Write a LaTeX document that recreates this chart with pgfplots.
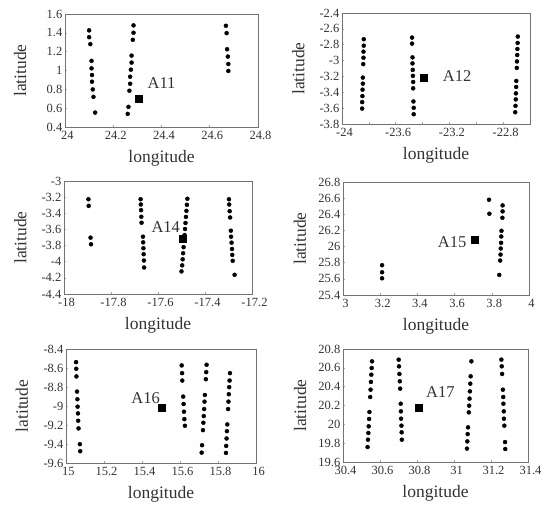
\documentclass[border=0pt]{standalone}
\usepackage{fontspec}
\setmainfont{Liberation Serif}
\usepackage{pgfplots}
\pgfplotsset{compat=1.18}

\pgfplotsset{
  panel/.style={
    scale only axis, anchor=south west, height=113pt,
    axis line style={draw=black!55, line width=0.8pt},
    tick style={draw=black!35, line width=0.5pt},
    tick align=inside, major tick length=2pt, minor tick length=2pt,
    xtick pos=left, ytick pos=left,
    /pgf/number format/assume math mode=true,
    tick label style={font=\fontsize{12.5}{13}\selectfont, text=black!80},
    label style={font=\fontsize{17.5}{18}\selectfont, text=black!80},
    xlabel={longitude}, ylabel={latitude},
    xlabel style={at={(axis description cs:0.5,0)}, anchor=center, yshift=-31pt},
    ylabel style={at={(axis description cs:-0.232,0.5)}, anchor=center},
    xticklabel style={xshift=2.5pt, yshift=-0.5pt},
    yticklabel style={inner sep=1.5pt, xshift=-1pt},
  },
  pts/.style={only marks, mark=*, mark size=2pt, black},
  site/.style={only marks, mark=square*, mark size=3.5pt, black},
}
\tikzset{tag/.style={font=\fontsize{16.5}{17}\selectfont, text=black!80}}

\begin{document}
\begin{tikzpicture}
\path[use as bounding box] (0,0) rectangle (544pt,-505pt);

% A11
\begin{axis}[panel, at={(65pt,-127pt)}, width=193pt,
  xmin=24, xmax=24.8, ymin=0.4, ymax=1.6,
  xtick={24,24.2,24.4,24.6,24.8}, ytick={0.4,0.6,0.8,1,1.2,1.4,1.6}]
\addplot[pts] coordinates {
 (24.10,1.426)(24.10,1.354)(24.105,1.280)(24.11,1.102)(24.11,1.023)(24.112,0.952)
 (24.112,0.881)(24.115,0.799)(24.118,0.720)(24.125,0.553)
 (24.284,1.479)(24.284,1.401)(24.281,1.326)(24.276,1.158)(24.276,1.084)(24.273,1.009)
 (24.270,0.934)(24.270,0.859)(24.267,0.785)(24.263,0.614)(24.260,0.539)
 (24.667,1.475)(24.670,1.397)(24.672,1.226)(24.675,1.148)(24.677,1.069)(24.677,0.995)};
\addplot[site] coordinates {(24.305,0.696)};
\node[tag] at (axis cs:24.40,0.863) {A11};
\end{axis}

% A12
\begin{axis}[panel, at={(342pt,-124pt)}, width=188pt, height=111pt,
  xmin=-24, xmax=-22.6, ymin=-3.8, ymax=-2.4, minor x tick num=1,
  xtick={-24,-23.6,-23.2,-22.8}, ytick={-3.8,-3.6,-3.4,-3.2,-3,-2.8,-2.6,-2.4}]
\addplot[pts] coordinates {
 (-23.838,-2.731)(-23.838,-2.812)(-23.840,-2.888)(-23.840,-2.964)(-23.842,-3.045)
 (-23.845,-3.215)(-23.845,-3.291)(-23.847,-3.367)(-23.848,-3.448)(-23.850,-3.524)(-23.850,-3.605)
 (-23.478,-2.710)(-23.478,-2.786)(-23.475,-2.960)(-23.475,-3.036)(-23.473,-3.117)
 (-23.472,-3.193)(-23.470,-3.270)(-23.470,-3.350)(-23.468,-3.516)(-23.466,-3.596)(-23.466,-3.677)
 (-22.691,-2.697)(-22.692,-2.778)(-22.694,-2.854)(-22.695,-2.930)(-22.697,-3.011)(-22.698,-3.092)
 (-22.702,-3.257)(-22.703,-3.333)(-22.705,-3.414)(-22.706,-3.490)(-22.708,-3.571)(-22.710,-3.652)};
\addplot[site] coordinates {(-23.389,-3.215)};
\node[tag] at (axis cs:-23.143,-3.197) {A12};
\end{axis}

% A14
\begin{axis}[panel, at={(64pt,-294pt)}, width=188pt,
  xmin=-18, xmax=-17.2, ymin=-4.4, ymax=-3,
  xtick={-18,-17.8,-17.6,-17.4,-17.2}, ytick={-4.4,-4.2,-4,-3.8,-3.6,-3.4,-3.2,-3}]
\addplot[pts] coordinates {
 (-17.896,-3.226)(-17.895,-3.308)(-17.887,-3.702)(-17.885,-3.784)
 (-17.674,-3.226)(-17.673,-3.291)(-17.672,-3.361)(-17.671,-3.443)(-17.670,-3.517)
 (-17.664,-3.690)(-17.663,-3.760)(-17.662,-3.833)(-17.661,-3.907)(-17.660,-3.985)(-17.659,-4.072)
 (-17.475,-3.220)(-17.477,-3.295)(-17.479,-3.370)(-17.481,-3.445)(-17.483,-3.520)(-17.485,-3.595)
 (-17.487,-3.670)(-17.491,-3.820)(-17.493,-3.895)(-17.495,-3.970)
 (-17.497,-4.045)(-17.500,-4.120)
 (-17.298,-3.226)(-17.297,-3.291)(-17.295,-3.374)(-17.293,-3.452)(-17.290,-3.616)(-17.289,-3.690)
 (-17.287,-3.764)(-17.285,-3.842)(-17.284,-3.915)(-17.282,-3.989)(-17.274,-4.162)};
\addplot[site] coordinates {(-17.496,-3.718)};
\node[tag] at (axis cs:-17.567,-3.567) {A14};
\end{axis}

% A15
\begin{axis}[panel, at={(343pt,-295pt)}, width=186pt,
  xmin=3, xmax=4, ymin=25.4, ymax=26.8,
  xtick={3,3.2,3.4,3.6,3.8,4}, ytick={25.4,25.6,25.8,26,26.2,26.4,26.6,26.8}]
\addplot[pts] coordinates {
 (3.21,25.769)(3.21,25.682)(3.21,25.607)
 (3.785,26.580)(3.787,26.407)
 (3.858,26.510)(3.858,26.436)(3.857,26.357)(3.852,26.195)(3.851,26.125)(3.850,26.046)
 (3.848,25.976)(3.847,25.901)(3.845,25.827)(3.840,25.649)};
\addplot[site] coordinates {(3.707,26.083)};
\node[tag] at (axis cs:3.587,26.05) {A15};
\end{axis}

% A16
\begin{axis}[panel, at={(66pt,-463pt)}, width=190pt, height=114pt,
  xmin=15, xmax=16, ymin=-9.6, ymax=-8.4,
  xtick={15,15.2,15.4,15.6,15.8,16}, ytick={-9.6,-9.4,-9.2,-9,-8.8,-8.6,-8.4}]
\addplot[pts] coordinates {
 (15.053,-8.538)(15.054,-8.608)(15.055,-8.689)(15.058,-8.848)(15.060,-8.929)(15.061,-9.007)
 (15.063,-9.078)(15.064,-9.155)(15.066,-9.236)(15.073,-9.402)(15.075,-9.476)
 (15.609,-8.573)(15.611,-8.654)(15.612,-8.732)(15.617,-8.901)(15.619,-8.979)(15.621,-9.060)
 (15.623,-9.138)(15.626,-9.208)
 (15.740,-8.566)(15.738,-8.644)(15.736,-8.718)(15.731,-8.884)(15.729,-8.954)(15.727,-9.032)
 (15.725,-9.106)(15.723,-9.176)(15.721,-9.254)(15.716,-9.413)(15.714,-9.491)
 (15.863,-8.654)(15.861,-8.732)(15.859,-8.802)(15.857,-8.876)(15.855,-8.954)(15.853,-9.032)
 (15.849,-9.194)(15.847,-9.265)(15.845,-9.342)(15.843,-9.420)(15.842,-9.494)};
\addplot[site] coordinates {(15.502,-9.014)};
\node[tag] at (axis cs:15.419,-8.919) {A16};
\end{axis}

% A17
\begin{axis}[panel, at={(343pt,-462pt)}, width=185pt,
  xmin=30.4, xmax=31.4, ymin=19.6, ymax=20.8,
  xtick={30.4,30.6,30.8,31,31.2,31.4}, ytick={19.6,19.8,20,20.2,20.4,20.6,20.8}]
\addplot[pts] coordinates {
 (30.557,20.669)(30.555,20.598)(30.553,20.527)(30.551,20.450)(30.549,20.368)(30.547,20.290)
 (30.543,20.131)(30.541,20.057)(30.539,19.979)(30.537,19.908)(30.535,19.837)(30.533,19.759)
 (30.701,20.687)(30.703,20.616)(30.705,20.535)(30.707,20.457)(30.709,20.379)
 (30.712,20.219)(30.713,20.138)(30.714,20.060)(30.716,19.986)(30.717,19.915)(30.718,19.837)
 (31.094,20.669)(31.090,20.510)(31.088,20.432)(31.086,20.350)(31.084,20.273)(31.082,20.198)
 (31.080,20.127)(31.076,19.968)(31.074,19.897)(31.072,19.819)(31.070,19.742)
 (31.256,20.687)(31.258,20.616)(31.260,20.535)(31.264,20.368)(31.266,20.290)(31.267,20.219)
 (31.269,20.138)(31.270,20.060)(31.272,19.986)(31.276,19.812)(31.277,19.738)};
\addplot[site] coordinates {(30.809,20.181)};
\node[tag] at (axis cs:30.926,20.340) {A17};
\end{axis}
\end{tikzpicture}
\end{document}
